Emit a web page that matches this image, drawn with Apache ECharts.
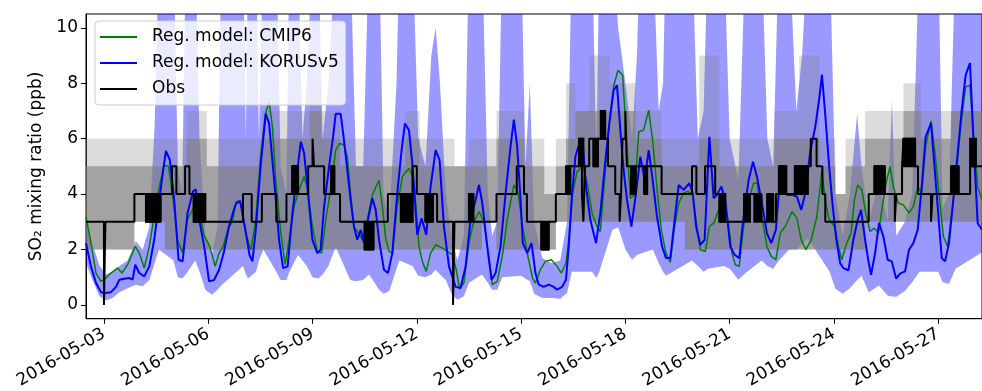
<!DOCTYPE html>
<html><head><meta charset="utf-8">
<script src="https://cdn.jsdelivr.net/npm/echarts@6/dist/echarts.min.js"></script>
<style>html,body{margin:0;padding:0;background:#fff}#c{width:982px;height:391px}</style>
</head><body><div id="c"></div><script>
// time unit: hours since 2016-05-03 00:00
const tickHours = [0,72,144,216,288,360,432,504,576];
const tickLabels = ['2016-05-03','2016-05-06','2016-05-09','2016-05-12','2016-05-15','2016-05-18','2016-05-21','2016-05-24','2016-05-27'];
const yTicks = [0,2,4,6,8,10];

// Reg. model: CMIP6 (green)
const cmipT = [-12.4,-9,-5.5,-2.1,1.4,4.8,9.4,12.4,16.3,21.6,24.4,27.8,31.3,34.7,38.2,41.6,44.6,47.8,50.8,54.3,57.7,61.2,63.5,65.8,69.2,73.1,76.8,79.5,82.3,85.4,88.7,91,94.5,97.9,101.4,104.8,108.3,111.5,114,116.3,118.6,122.1,125.1,127.8,131.3,134.7,138.2,140.5,143.9,147.3,150.3,153.1,156.5,160,162.8,165.7,168,170.3,172.6,175.6,178.4,181.8,185.3,189.9,192.2,194.5,196.8,199.1,202.5,206,210.6,214,217.5,219.8,222.5,225.5,229,233.6,237,240.5,243.2,245.5,248.5,252,254.7,258.9,262.3,265.3,268.1,271.5,275,278.4,283,286,288.8,292.6,296,297.9,301.3,304.8,308.9,312.8,315.8,319,320.9,323.6,326.6,330.5,333.5,337,340.4,342.7,346.2,349.6,351.9,354.9,358.1,360.4,363.4,366.4,369.2,372.6,376.1,378.8,381.8,384.8,388,391,394,396.8,400.2,403,406.5,409.4,411.7,415.2,418,421,424.4,427.8,430.8,433.6,435.9,438.6,441.6,445.1,448.5,451,453.8,457.7,460.7,463.9,466.9,470.4,475,478.4,481.4,484.6,488.3,492.2,495.7,497.9,500.7,504.8,507.1,509.4,512.8,515.8,518.1,520.4,523.2,525.9,528.9,531.9,534.7,537.4,540.4,542.7,545,548.5,551.9,555.8,558.8,561.8,564.6,567.3,571,573.8,576.5,579.5,582.5,585.3,588.7,591.7,594.9,597.9,600.2,603.2,606.2];
const cmipV = [3.19,2.23,1.15,0.85,0.97,1.15,1.33,1.15,1.45,2.11,1.87,1.33,2.11,3.2,4.27,5.05,4.99,3.79,2.35,1.87,3.1,3.43,3.9,3.31,2.5,2.11,1.39,1.87,2.11,2.7,3.01,3.67,3.67,2.59,1.99,3.07,5.47,6.9,7.33,6.43,4.51,2.59,1.45,2.35,3.55,4.15,4.63,4.2,2.83,1.93,1.87,3.07,4.15,5.59,5.83,5.77,5.35,4.0,2.83,2.59,2.35,3.07,3.97,4.5,3.55,2.4,1.93,1.87,3.55,4.63,4.93,4.51,2.11,1.57,1.21,1.87,2.17,2.05,1.93,1.81,1.27,0.58,0.79,2.23,2.89,3.37,3.01,1.87,0.73,0.85,1.75,3.07,4.33,4.03,2.9,1.77,0.95,0.79,1.27,1.57,1.63,1.39,1.15,1.51,2.35,4.03,4.81,4.99,4.45,3.31,2.83,2.65,4.87,6.91,7.9,8.47,8.29,6.31,3.85,3.97,6.25,6.31,7.03,5.95,4.2,2.71,1.87,1.53,2.83,3.67,4.03,4.1,4.0,2.83,1.99,1.93,2.83,2.95,3.43,3.79,3.07,1.87,1.45,1.39,2.83,3.79,4.39,4.39,3.31,2.11,1.75,1.63,2.59,2.83,3.37,3.13,2.35,1.99,2.35,3.19,4.87,3.79,3.07,2.8,2.11,1.63,2.23,2.59,3.79,4.33,4.15,3.31,2.65,2.77,2.59,3.55,4.51,4.99,4.27,3.67,3.61,3.31,3.55,4.27,4.03,5.71,6.64,5.47,4.03,2.47,2.11,3.31,4.87,6.55,7.87,7.93,6.19,4.27,3.79];

// Reg. model: KORUSv5 (blue)
const korusT = [-12.4,-9,-5.5,-2.1,1.4,4.8,8.3,10.6,14,17.5,19.8,21.6,24.4,27.8,31.3,34.7,38.2,40.9,42.8,45.5,48.5,51.5,54.3,57.7,61.5,63.4,65.8,69.2,72.6,76,79.5,82.9,86.3,89.7,91.5,94,98,100.5,102.5,104.8,108.3,111.7,114,117.5,120.9,123.7,126.8,130.1,133.6,135.9,138.2,140.5,143.9,147.3,149.6,152,155.4,158.2,160,163.4,165.7,168,170.3,172.6,174.9,177.2,179.5,181.8,185.3,187.6,189.9,193.3,196.1,199.1,202.5,205.5,207.8,210.6,212.9,216.3,219.3,222.5,225.5,229,231.7,234.7,238.2,242.8,246.2,249.7,253.1,256.6,258.9,261.2,264.6,267.6,270.4,273.8,277.3,280.7,283,285.3,287.6,289.2,292.2,295.2,297.9,300.2,303.6,307.1,310.5,312.8,316.3,319,320.9,323.2,325.5,327.8,330.5,332.8,335.8,339.7,342.7,346.2,348.9,351.9,354.2,356.5,358.8,361.1,364.1,366.9,370.3,373.3,376.1,378.8,381.8,385.3,388,391,394,396.8,400.2,404.2,406.5,408.8,411.7,414.7,418,420.9,423.2,426.2,429,432.4,435.4,438.6,441.6,445.1,448.1,450.8,454.3,457.7,460.7,463.9,465.8,468.1,471.5,475,478.4,481.4,484.2,487.6,491.1,494,495.7,497.9,500.7,502.7,505.5,508.3,510.5,514,517.4,520.4,522.7,525.5,527.8,529.6,532.4,535.1,538.1,541.1,543.9,546.9,549.6,553.1,555.8,558.8,561.8,564.6,567.3,571,573.8,576.5,578.4,580.7,583.4,586.4,589.4,592.2,594.9,597.9,600.2,603.2,606.2];
const korusV = [2.23,1.39,0.79,0.46,0.43,0.46,0.65,0.91,0.94,0.97,0.91,1.45,1.15,1.03,1.39,2.35,3.79,4.87,5.56,5.23,3.79,1.63,1.57,3.31,4.1,4.17,3.07,2.11,0.85,0.9,1.27,1.93,2.83,3.43,3.7,3.75,2.6,1.8,1.57,2.71,5.1,6.9,6.55,4.5,2.35,1.33,1.39,3.3,4.87,5.89,5.47,4.27,2.35,1.87,1.99,3.55,4.99,6.07,6.9,6.9,5.95,4.87,3.79,2.83,2.35,2.71,2.23,2.95,3.85,3.43,2.35,1.27,1.15,1.87,4.03,5.59,6.55,6.3,5.1,2.53,3.13,2.53,4.27,5.59,5.23,2.83,1.39,0.65,0.61,1.39,3.07,3.79,4.33,3.67,2.11,0.91,1.15,2.11,4.03,5.71,6.69,5.71,3.8,2.23,1.87,2.23,1.15,0.73,0.65,0.73,0.65,0.55,0.65,0.91,2.11,4.03,5.35,5.77,5.89,4.27,3.07,2.23,3.31,5.23,6.55,7.75,7.93,6.31,4.87,3.79,2.83,3.85,5.35,4.51,5.59,4.51,3.19,2.11,1.69,1.69,3.07,4.33,4.15,4.39,4.03,2.83,2.17,2.35,6.07,3.85,3.97,4.27,3.79,2.11,1.81,1.69,3.19,4.51,5.17,4.63,3.67,2.59,2.23,2.71,3.97,4.45,3.97,3.97,3.91,3.43,4.03,5.53,6.43,7.51,8.31,6.91,4.99,3.8,2.4,1.5,1.33,1.25,2.35,3.07,3.43,2.35,1.57,1.09,1.87,2.95,2.47,1.63,1.57,0.95,1.13,1.21,1.99,2.23,2.71,4.27,6.07,6.55,4.75,2.95,1.69,1.57,2.23,3.79,5.47,7.03,8.29,8.73,6.07,2.95,2.71];

// KORUSv5 ensemble spread (light blue band)
const bandT = [-12.4,-8,-3,1.4,6,10.6,16.3,22,26.7,31.3,35,38,48,51,54,56.5,63,66,70,74.5,78.4,81,96,98,99.5,105,107,110,119,122,126,128,134,137,140,144,148,151,155,160,170,174,179,183,190,193,197,202,204,213,217,222,226,229,232,236,240,244,248.5,252,261,265,268,271.5,275,288,291,294,297,302.5,309,315,319.7,323,337,340,342,351,355,360,364.6,368,370,379,383,386,388,406,410,414,417,428,432,438,443,454,458,462,466,473,478,482,486,501,505,510,515,520,523,528,535,541,544,547,553,558,563,576,579,583.4,588,606.2];
const bandLo = [1.5,0.9,0.3,0.17,0.25,0.46,0.6,0.73,0.67,0.9,1.5,2.0,1.6,1.0,0.95,1.1,1.6,1.2,0.55,0.37,0.55,0.7,1.4,1.1,0.95,1.2,1.6,2.0,1.2,0.9,0.9,1.2,1.8,1.6,1.4,1.0,0.95,1.1,1.4,2.1,0.9,0.85,0.9,1.1,0.55,0.4,0.5,1.3,1.6,1.4,1.05,1.0,1.1,1.27,1.1,0.9,0.4,0.19,0.31,0.8,1.1,0.8,0.55,0.55,1.0,1.05,0.95,0.85,0.4,0.25,0.25,0.22,0.43,1.2,1.2,0.97,1.2,2.7,2.8,2.0,1.63,1.8,1.85,2.0,1.5,1.2,1.05,1.6,1.4,1.2,1.3,1.4,1.3,0.91,1.15,1.6,1.4,1.3,1.6,2.0,2.0,2.2,2.4,1.2,0.58,0.4,0.6,0.9,1.05,0.46,0.7,0.34,0.3,0.29,0.5,0.82,1.2,1.2,0.82,0.76,1.3,1.9];
const bandHi = [3.2,2.2,1.4,1.1,1.2,1.4,1.6,2.3,2.0,2.8,6.5,13,13,5,4,13,13,6,2.5,1.8,2.8,13,13,6,13,13,6,13,13,5,4,13,13,6,8,13,13,6,8,13,13,5,5,13,13,4,3,8,13,13,6,5,9,10,8,4,2.5,1.6,2.5,13,13,4,2.5,3,13,13,5,8,3,1.7,1.5,1.6,3,13,13,5,13,13,10,8,6,9,13,13,7,8,13,13,6,7,13,13,6,4.5,13,13,6,5,13,13,7,9,13,13,4,2.5,4,6.9,5,3,4.5,3,7.4,2.5,3,4,13,13,3.5,4,13,13];

// Obs (hourly steps, given as change points)
const obsT = [-12.4,0,1,21,29,39,47,50,56,59,62,96,102,109,119,126,130,134,141,144,145,152,157,159,163,180,186,196,205,213,216,222,227,230,241,242,252,255,271,285,290,292,302,307,312,320,328,330,331,332,335,338,341,344,345,348,353,356,357,358,360,361,364,367,373,375,385,406,409,415,422,425,442,454,458,462,464,466,471,477,488,492,496,498,528,532,539,546,547,551,552,560,562,571,572,585,590,598];
const obsV = [3,0,3,4,3,4,5,4,5,4,3,4,3,4,3,4,5,4,5,6,5,4,5,4,3,2,3,4,3,5,4,3,4,3,0,3,4,3,4,5,4,3,2,3,4,5,6,4,3,5,6,5,6,7,6,5,4,3,4,6,7,5,4,5,4,5,4,5,4,5,4,3,4,3,4,3,4,5,4,5,6,5,4,3,4,5,4,3,4,5,6,5,4,3,4,5,4,5];
// Obs periods of rapid switching between two levels (drawn as solid black)
const flipStart = [29,62,130,157,180,205,222,252,302,319,328,338,343,364,373,425,442,449,458,466,477,532,552,585,598];
const flipEnd   = [39,70,134,159,186,213,227,255,307,322,331,341,346,367,375,429,446,453,462,471,486,539,560,590,602];
const flipLo    = [3,3,4,4,2,3,3,3,2,4,5,5,6,4,4,3,3,3,3,4,4,4,5,4,5];
const flipHi    = [4,4,5,5,3,4,4,4,3,5,6,6,7,5,5,4,4,4,4,5,5,5,6,5,6];

// Obs uncertainty (grey band): run starts, lower, core upper, outer upper
const obsBandT = [-12.4,21,42,57,71,94,109,128,142,150,163,196,208,218,242,252,261,271,290,304,312,319,325.5,335,349,360,367,385,401,411,425,439,463,480,494,505,512,525.5,552,564,585];
const obsBandLo = [2,3,2,2,2,2,2,2,2,2,2,2,2,2,2,2,3,2,2,2,3,3,3,3,3,3,3,3,2,2,2,2,2,2,2,2,2,3,3,3,3];
const obsBandHi = [5,5,5,6,5,5,6,6,7,6,5,5,6,5,5,5,5,6,5,4,5,6,7,7,7,7,6,5,5,6,5,5,6,6,5,4,5,6,7,6,7];
const obsBandOuter = [6,6,6,7,6,6,7,7,8,7,6,6,7,6,5,6,6,7,6,5,6,8,7,9,8,8,7,6,6,9,6,6,7,9,6,4,6,7,8,7,7];

const X_MIN = -12.4, X_MAX = 606.2;

function pairs(T, V) { return T.map((t, i) => [t, V[i]]); }
function bandPoly(T, lo, hi) { return pairs(T, hi).concat(pairs(T, lo).reverse()); }
function stepPoly(T, lo, hi, end) {
  const up = [], dn = [];
  for (let i = 0; i < T.length; i++) {
    const t1 = i + 1 < T.length ? T[i + 1] : end;
    up.push([T[i], hi[i]], [t1, hi[i]]);
    dn.push([T[i], lo[i]], [t1, lo[i]]);
  }
  return up.concat(dn.reverse());
}
function clipOf(params) {
  const cs = params.coordSys;
  return { type: 'rect', shape: { x: cs.x, y: cs.y, width: cs.width, height: cs.height } };
}
function polySeries(name, pts, fill, z) {
  return {
    type: 'custom', name: name, silent: true, z: z, clip: true,
    data: [[pts[0][0], pts[0][1]]], encode: { x: 0, y: 1 },
    renderItem: function (params, api) {
      return { type: 'polygon', shape: { points: pts.map(p => api.coord(p)) },
               style: { fill: fill }, clipPath: clipOf(params) };
    }
  };
}

const obsData = pairs(obsT, obsV);
obsData.push([X_MAX, obsV[obsV.length - 1]]);
const flipData = flipStart.map((s, i) => [s, flipEnd[i], flipLo[i], flipHi[i]]);

const FONT = 'DejaVu Sans';
const chart = echarts.init(document.getElementById('c'), null, { renderer: 'canvas' });
chart.setOption({
  animation: false,
  backgroundColor: '#fff',
  textStyle: { fontFamily: FONT },
  grid: { left: 86, top: 14, right: -1, bottom: 71, show: true, borderColor: '#000', borderWidth: 1, backgroundColor: 'transparent' },
  legend: {
    data: ['Reg. model: CMIP6', 'Reg. model: KORUSv5', 'Obs'],
    orient: 'vertical', left: 95, top: 21,
    icon: 'rect', itemWidth: 37, itemHeight: 2, itemGap: 8,
    padding: [7, 7, 7, 5],
    backgroundColor: 'rgba(255,255,255,0.8)', borderColor: '#cccccc', borderWidth: 1, borderRadius: 4,
    textStyle: { fontFamily: FONT, fontSize: 17, color: '#000', lineHeight: 18, padding: [0, 0, 0, 10] },
    z: 10
  },
  xAxis: {
    type: 'value', min: X_MIN, max: X_MAX,
    splitLine: { show: false },
    axisLine: { show: true, onZero: false, lineStyle: { color: '#000', width: 1 } },
    axisTick: { show: true, length: 5, customValues: tickHours, lineStyle: { color: '#000' } },
    axisLabel: {
      customValues: tickHours, rotate: 30, margin: 14, fontSize: 17, color: '#000', fontFamily: FONT,
      formatter: function (v) { const i = tickHours.indexOf(v); return i >= 0 ? tickLabels[i] : ''; }
    }
  },
  yAxis: {
    type: 'value', min: -0.5, max: 10.5,
    name: 'SO₂ mixing ratio (ppb)', nameLocation: 'middle', nameGap: 32,
    nameTextStyle: { fontSize: 17, color: '#000', fontFamily: FONT },
    splitLine: { show: false },
    axisLine: { show: true, onZero: false, lineStyle: { color: '#000', width: 1 } },
    axisTick: { show: true, length: 5, customValues: yTicks, lineStyle: { color: '#000' } },
    axisLabel: { customValues: yTicks, margin: 8, fontSize: 17, color: '#000', fontFamily: FONT }
  },
  series: [
    polySeries('korusBand', bandPoly(bandT, bandLo, bandHi), 'rgba(0,0,255,0.4)', 1),
    polySeries('obsBandOuter', stepPoly(obsBandT, obsBandLo, obsBandOuter, X_MAX), 'rgba(128,128,128,0.28)', 1),
    polySeries('obsBand', stepPoly(obsBandT, obsBandLo, obsBandHi, X_MAX), 'rgba(128,128,128,0.62)', 1),
    { name: 'Reg. model: CMIP6', type: 'line', data: pairs(cmipT, cmipV), symbol: 'none', z: 3,
      lineStyle: { color: '#008000', width: 1.5 }, itemStyle: { color: '#008000' } },
    { name: 'Reg. model: KORUSv5', type: 'line', data: pairs(korusT, korusV), symbol: 'none', z: 4,
      lineStyle: { color: '#0000ff', width: 2 }, itemStyle: { color: '#0000ff' } },
    { name: 'Obs', type: 'line', data: obsData, step: 'end', symbol: 'none', z: 5,
      lineStyle: { color: '#000000', width: 2 }, itemStyle: { color: '#000000' } },
    { name: 'obsFlips', type: 'custom', silent: true, z: 5, clip: true,
      data: flipData, encode: { x: [0, 1], y: [2, 3] },
      renderItem: function (params, api) {
        const a = api.coord([api.value(0), api.value(3)]);
        const b = api.coord([api.value(1), api.value(2)]);
        return { type: 'rect', shape: { x: a[0] - 1, y: a[1] - 1, width: b[0] - a[0] + 2, height: b[1] - a[1] + 2 },
                 style: { fill: '#000' }, clipPath: clipOf(params) };
      } }
  ]
});
</script></body></html>
